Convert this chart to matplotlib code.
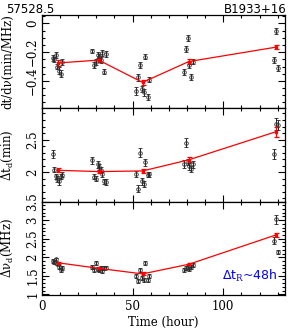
import matplotlib
matplotlib.use("Agg")
import matplotlib.pyplot as plt
from matplotlib.ticker import MultipleLocator

# observation times (hour) for the individual points
t = [5.9, 6.8, 7.8, 8.6, 9.5, 10.4, 11.3,
     27.6, 28.7, 29.8, 30.8, 31.7, 32.5, 33.4, 34.5, 35.5,
     52.0, 52.9, 54.0, 55.3, 56.3, 57.1, 58.4, 59.3,
     78.2, 79.5, 80.4, 81.3, 82.2, 83.2,
     128.0, 129.0, 130.0]

dtdnu = [-0.24, -0.25, -0.22, -0.30, -0.33, -0.35, -0.27,
         -0.19, -0.29, -0.27, -0.22, -0.23, -0.255, -0.205, -0.335, -0.215,
         -0.47, -0.375, -0.29, -0.455, -0.48, -0.23, -0.51, -0.39,
         -0.34, -0.18, -0.10, -0.29, -0.37, -0.265,
         -0.255, -0.05, -0.31]
dtdnu_err = [0.02, 0.02, 0.02, 0.02, 0.025, 0.025, 0.02,
             0.015, 0.02, 0.02, 0.02, 0.02, 0.02, 0.02, 0.02, 0.02,
             0.025, 0.025, 0.02, 0.02, 0.025, 0.02, 0.02, 0.02,
             0.02, 0.02, 0.02, 0.02, 0.02, 0.02,
             0.02, 0.02, 0.02]

dtd = [2.28, 2.04, 1.94, 1.90, 1.86, 1.93, 1.96,
       2.18, 1.93, 1.90, 2.12, 2.08, 2.04, 1.97, 1.86, 1.85,
       1.97, 1.75, 2.30, 1.86, 1.82, 2.15, 1.96, 1.97,
       2.12, 2.45, 2.16, 2.09, 2.05, 2.12,
       2.28, 2.74, 2.72]
dtd_err = [0.06, 0.04, 0.04, 0.05, 0.05, 0.04, 0.04,
           0.06, 0.04, 0.04, 0.05, 0.05, 0.04, 0.04, 0.04, 0.04,
           0.05, 0.05, 0.07, 0.05, 0.05, 0.06, 0.04, 0.04,
           0.06, 0.07, 0.05, 0.05, 0.05, 0.05,
           0.08, 0.09, 0.08]

dnud = [1.90, 1.88, 1.94, 1.83, 1.74, 1.66, 1.70,
        1.74, 1.66, 1.85, 1.68, 1.66, 1.70, 1.63, 1.70, 1.72,
        1.50, 1.35, 1.66, 1.44, 1.39, 1.85, 1.38, 1.50,
        1.66, 1.70, 1.74, 1.68, 1.74, 1.79,
        2.45, 3.02, 2.14]
dnud_err = [0.06, 0.05, 0.05, 0.05, 0.05, 0.05, 0.05,
            0.06, 0.05, 0.05, 0.05, 0.05, 0.05, 0.05, 0.05, 0.05,
            0.05, 0.05, 0.05, 0.05, 0.05, 0.05, 0.05, 0.05,
            0.05, 0.05, 0.05, 0.05, 0.05, 0.05,
            0.10, 0.13, 0.06]

# averaged values (red)
t_avg = [8.8, 31.3, 55.5, 81.0, 129.0]
dtdnu_avg = [-0.275, -0.255, -0.41, -0.265, -0.165]
dtdnu_avg_err = [0.02, 0.015, 0.02, 0.02, 0.015]
dtd_avg = [2.03, 2.01, 2.02, 2.19, 2.62]
dtd_avg_err = [0.03, 0.02, 0.03, 0.04, 0.075]
dnud_avg = [1.85, 1.70, 1.55, 1.81, 2.60]
dnud_avg_err = [0.03, 0.02, 0.04, 0.03, 0.05]

plt.rcParams['font.family'] = 'DejaVu Serif'
plt.rcParams['mathtext.fontset'] = 'dejavuserif'

fig, axes = plt.subplots(3, 1, figsize=(2.91, 3.30), dpi=100, sharex=True)
fig.subplots_adjust(left=0.144, right=0.979, bottom=0.106, top=0.955, hspace=0)

panels = [
    (dtdnu, dtdnu_err, dtdnu_avg, dtdnu_avg_err, 'dt/d\u03bd(min/MHz)', (-0.59, 0.06), 0.2, 0.05),
    (dtd, dtd_err, dtd_avg, dtd_avg_err, '\u0394t$_\\mathrm{d}$(min)', (1.55, 2.98), 0.5, 0.1),
    (dnud, dnud_err, dnud_avg, dnud_avg_err, '\u0394\u03bd$_\\mathrm{d}$(MHz)', (0.98, 3.5), 0.5, 0.1),
]

for ax, (vals, errs, avg, avg_err, label, ylim, major, minor) in zip(axes, panels):
    ax.errorbar(t, vals, yerr=errs, fmt='o', ms=2.6, mfc='none', mec='#333333',
                mew=0.6, ecolor='#222222', elinewidth=0.7, capsize=1.3, capthick=0.7)
    ax.errorbar(t_avg, avg, yerr=avg_err, fmt='-s', color='red', ms=1.5, lw=0.9,
                elinewidth=0.9, capsize=1.8, capthick=0.9)
    ax.set_ylim(*ylim)
    ax.set_xlim(0, 134)
    ax.yaxis.set_major_locator(MultipleLocator(major))
    ax.yaxis.set_minor_locator(MultipleLocator(minor))
    ax.xaxis.set_major_locator(MultipleLocator(50))
    ax.xaxis.set_minor_locator(MultipleLocator(10))
    ax.tick_params(which='both', direction='in', top=True, right=True, width=0.8)
    ax.tick_params(which='major', length=5, labelsize=8.5)
    ax.tick_params(which='minor', length=2.5)
    ax.tick_params(axis='y', labelrotation=90, pad=2)
    for lbl in ax.get_yticklabels():
        lbl.set_va('center')
    ax.set_ylabel(label, fontsize=8.5)
    ax.yaxis.set_label_coords(-0.112, 0.5)
    for s in ax.spines.values():
        s.set_linewidth(0.9)

axes[0].yaxis.set_major_formatter(plt.FuncFormatter(lambda v, p: '0' if abs(v) < 1e-9 else f'\u2212{abs(v):.1f}'))
axes[1].yaxis.set_major_formatter(plt.FuncFormatter(lambda v, p: f'{v:g}'))
axes[2].yaxis.set_major_formatter(plt.FuncFormatter(lambda v, p: f'{v:g}'))
axes[2].set_xlabel('Time (hour)', fontsize=8.5, labelpad=2)

axes[2].text(0.97, 0.12, '\u0394t$_\\mathrm{R}$~48h', transform=axes[2].transAxes,
             ha='right', va='bottom', color='blue', fontsize=9, family='DejaVu Sans')

fig.text(0.02, 0.992, '57528.5', ha='left', va='top', fontsize=8.5, family='DejaVu Sans')
fig.text(0.985, 0.992, 'B1933+16', ha='right', va='top', fontsize=8.5, family='DejaVu Sans')

fig.savefig('out.png', dpi=100)
